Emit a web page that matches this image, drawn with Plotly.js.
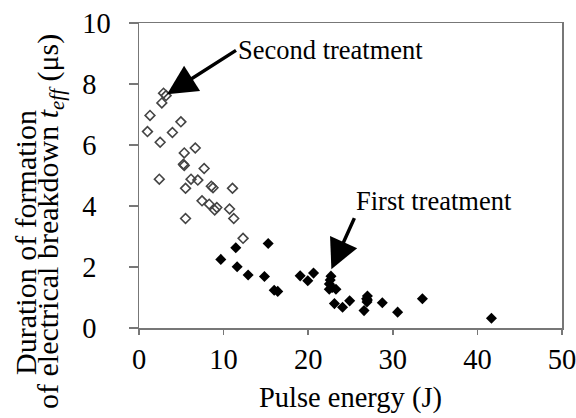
<!DOCTYPE html>
<html>
<head>
<meta charset="utf-8">
<script src="https://cdn.plot.ly/plotly-3.0.1.min.js"></script>
<style>html,body{margin:0;padding:0;background:#fff;}#chart{width:576px;height:418px;}</style>
</head>
<body>
<div id="chart"></div>
<script>
// Second treatment (open diamonds)
const secondX = [2.9, 3.2, 2.7, 1.3, 4.95, 1.0, 3.95, 2.5, 5.35, 6.65, 5.25, 5.35, 7.7, 2.4, 6.15, 6.95, 8.55, 8.75, 5.5, 11.05, 7.45, 8.3, 9.2, 8.95, 10.7, 5.5, 11.2, 12.3];
const secondY = [7.7, 7.62, 7.38, 6.97, 6.76, 6.44, 6.41, 6.09, 5.74, 5.9, 5.37, 5.33, 5.23, 4.88, 4.88, 4.85, 4.65, 4.6, 4.58, 4.58, 4.17, 4.06, 3.95, 3.87, 3.9, 3.59, 3.59, 2.94];
// First treatment (filled diamonds)
const firstX = [15.27, 11.44, 9.67, 11.6, 12.9, 14.83, 15.98, 16.4, 19.05, 20.63, 19.95, 22.69, 22.6, 22.5, 22.84, 22.49, 23.28, 23.1, 24.06, 24.9, 27.0, 27.0, 26.9, 26.95, 26.6, 28.76, 30.57, 33.5, 41.66];
const firstY = [2.77, 2.63, 2.25, 2.01, 1.74, 1.69, 1.24, 1.2, 1.71, 1.8, 1.55, 1.70, 1.57, 1.44, 1.33, 1.27, 1.27, 0.80, 0.68, 0.89, 1.05, 0.92, 0.96, 0.85, 0.57, 0.83, 0.52, 0.96, 0.32];

const xTicks = [0, 10, 20, 30, 40, 50];
const yTicks = [0, 2, 4, 6, 8, 10];
const yTickText = ["0\u00a0\u00a0", "2\u00a0\u00a0", "4\u00a0\u00a0", "6\u00a0\u00a0", "8\u00a0\u00a0", "10"];
const xTitle = "Pulse energy (J)";
const yTitle1 = "Duration of formation";
const yTitle2 = "of electrical breakdown <i>t<sub>eff</sub></i> (μs)";
const label1 = "Second treatment";
const label2 = "First treatment";

const serif = "Liberation Serif";

const traces = [
  {x: secondX, y: secondY, type: "scatter", mode: "markers", name: label1,
   marker: {symbol: "diamond-open", size: 7.5, color: "#444", line: {width: 1.6, color: "#444"}}},
  {x: firstX, y: firstY, type: "scatter", mode: "markers", name: label2,
   marker: {symbol: "diamond", size: 8.5, color: "#000", line: {width: 0}}}
];

const layout = {
  width: 576, height: 418,
  margin: {l: 139, r: 14, t: 23, b: 90},
  showlegend: false,
  paper_bgcolor: "#fff", plot_bgcolor: "#fff",
  font: {family: serif, size: 28, color: "#000"},
  xaxis: {range: [0, 50], tickvals: xTicks, ticktext: xTicks.map(String),
    showgrid: false, zeroline: false, showline: true, mirror: true,
    linecolor: "#777", linewidth: 1.5, ticks: "outside", ticklen: 5, tickcolor: "#777", tickwidth: 1.5,
    tickfont: {family: serif, size: 28.5}, ticklabeloverflow: "allow",
    title: {text: xTitle, font: {family: serif, size: 28.5}, standoff: 13}},
  yaxis: {range: [0, 10], tickvals: yTicks, ticktext: yTickText,
    showgrid: false, zeroline: false, showline: true, mirror: true,
    linecolor: "#777", linewidth: 1.5, ticks: "outside", ticklen: 9, tickcolor: "#777", tickwidth: 1.5,
    tickfont: {family: serif, size: 28.5}, ticklabelstandoff: 12, ticklabeloverflow: "allow"},
  annotations: [
    {xref: "paper", yref: "paper", x: (25 - 139) / 423, y: (328 - 243) / 305, text: yTitle1,
     textangle: -90, showarrow: false, xanchor: "center", yanchor: "middle", font: {family: serif, size: 30}},
    {xref: "paper", yref: "paper", x: (50 - 139) / 423, y: (328 - 222) / 305, text: yTitle2,
     textangle: -90, showarrow: false, xanchor: "center", yanchor: "middle", font: {family: serif, size: 30}},
    {x: 3.31, y: 7.66, xref: "x", yref: "y", text: label1, showarrow: true,
     ax: 69, ay: -44, xanchor: "left", yanchor: "middle",
     arrowhead: 2, arrowsize: 1.7, arrowwidth: 3.5, arrowcolor: "#000", font: {family: serif, size: 26.5}},
    {x: 22.74, y: 1.93, xref: "x", yref: "y", text: label2, showarrow: true,
     ax: 23, ay: -51, xanchor: "left", yanchor: "bottom",
     arrowhead: 2, arrowsize: 1.7, arrowwidth: 3.5, arrowcolor: "#000", font: {family: serif, size: 26.5}}
  ]
};

Plotly.newPlot("chart", traces, layout, {displayModeBar: false, staticPlot: true});
</script>
</body>
</html>
